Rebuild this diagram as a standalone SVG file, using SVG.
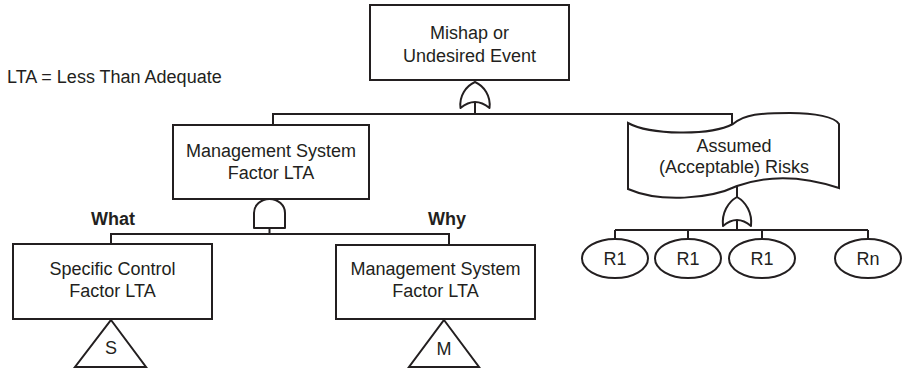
<svg xmlns="http://www.w3.org/2000/svg" width="902" height="371" viewBox="0 0 902 371">
  <defs>
    <style>
      .box { fill: #ffffff; stroke: #231f20; stroke-width: 2; }
      .line { fill: none; stroke: #231f20; stroke-width: 2; }
      .gate { fill: #ffffff; stroke: #231f20; stroke-width: 2; stroke-linejoin: round; }
      .lbl { font-family: "Liberation Sans", Arial, sans-serif; font-size: 18px; fill: #231f20; text-anchor: middle; }
      .note { font-family: "Liberation Sans", Arial, sans-serif; font-size: 18px; fill: #231f20; }
      .bold { font-family: "Liberation Sans", Arial, sans-serif; font-size: 18px; font-weight: bold; fill: #231f20; text-anchor: middle; }
    </style>
  </defs>

  <rect width="902" height="371" fill="#ffffff"/>

  <text class="note" x="7" y="83">LTA = Less Than Adequate</text>

  <!-- connectors and gates -->
  <g id="connectors">
    <!-- OR gate below top event -->
    <path class="gate" d="M460.5,108 C459,96 466,86 475,82 C484,86 491,96 489.5,108 Q475,96 460.5,108 Z"/>
    <line class="line" x1="475" y1="102" x2="475" y2="114"/>
    <polyline class="line" points="273,125 273,114 732,114 732,124"/>

    <!-- AND gate below management system factor -->
    <path class="gate" d="M254,228 L254,213 A15.5,14 0 0 1 285,213 L285,228 Z"/>
    <line class="line" x1="269.5" y1="228" x2="269.5" y2="234"/>
    <polyline class="line" points="111,244 111,234 449,234 449,245"/>

    <!-- OR gate below assumed risks -->
    <line class="line" x1="737" y1="186" x2="737" y2="197"/>
    <path class="gate" d="M723,226 C721.5,213 728,202 737,197 C746,202 752.5,213 751,226 Q737,214 723,226 Z"/>
    <line class="line" x1="737" y1="220" x2="737" y2="230"/>
    <line class="line" x1="615" y1="230" x2="868" y2="230"/>
    <line class="line" x1="615" y1="230" x2="615" y2="239"/>
    <line class="line" x1="688" y1="230" x2="688" y2="239"/>
    <line class="line" x1="762" y1="230" x2="762" y2="239"/>
    <line class="line" x1="868" y1="230" x2="868" y2="239"/>
  </g>

  <g id="top-event">
    <rect class="box" x="370" y="5" width="199" height="75"/>
    <text class="lbl" x="469.5" y="39">Mishap or</text>
    <text class="lbl" x="469.5" y="62">Undesired Event</text>
  </g>

  <g id="management-factor">
    <rect class="box" x="173" y="125" width="196" height="74"/>
    <text class="lbl" x="271" y="157">Management System</text>
    <text class="lbl" x="271" y="179">Factor LTA</text>
  </g>

  <g id="assumed-risks">
    <path class="box" d="M628,123 C650,135 710,136 733,124 C745,114 760,113 790,113 C815,113 835,117 839,124 L839,188 C800,175 765,176 737,186 C710,199 660,203 628,189 Z"/>
    <text class="lbl" x="734" y="152">Assumed</text>
    <text class="lbl" x="734" y="173">(Acceptable) Risks</text>
  </g>

  <g id="what-label">
    <text class="bold" x="113" y="225">What</text>
  </g>
  <g id="why-label">
    <text class="bold" x="447" y="225">Why</text>
  </g>

  <g id="specific-control">
    <rect class="box" x="13" y="244" width="199" height="75"/>
    <text class="lbl" x="112.5" y="275">Specific Control</text>
    <text class="lbl" x="112.5" y="297">Factor LTA</text>
  </g>

  <g id="transfer-s">
    <polygon class="box" points="111,320 146,367 75,367"/>
    <text class="lbl" x="111" y="354">S</text>
  </g>

  <g id="management-factor-why">
    <rect class="box" x="336" y="245" width="199" height="74"/>
    <text class="lbl" x="435.5" y="275">Management System</text>
    <text class="lbl" x="435.5" y="297">Factor LTA</text>
  </g>

  <g id="transfer-m">
    <polygon class="box" points="444,320 479,367 409,367"/>
    <text class="lbl" x="444" y="355">M</text>
  </g>

  <g id="risk-1">
    <ellipse class="box" cx="615" cy="258.5" rx="33" ry="19.5"/>
    <text class="lbl" x="615" y="265">R1</text>
  </g>
  <g id="risk-2">
    <ellipse class="box" cx="688" cy="258.5" rx="33" ry="19.5"/>
    <text class="lbl" x="688" y="265">R1</text>
  </g>
  <g id="risk-3">
    <ellipse class="box" cx="762" cy="258.5" rx="33" ry="19.5"/>
    <text class="lbl" x="762" y="265">R1</text>
  </g>
  <g id="risk-n">
    <ellipse class="box" cx="868" cy="258.5" rx="33" ry="19.5"/>
    <text class="lbl" x="868" y="265">Rn</text>
  </g>
</svg>
